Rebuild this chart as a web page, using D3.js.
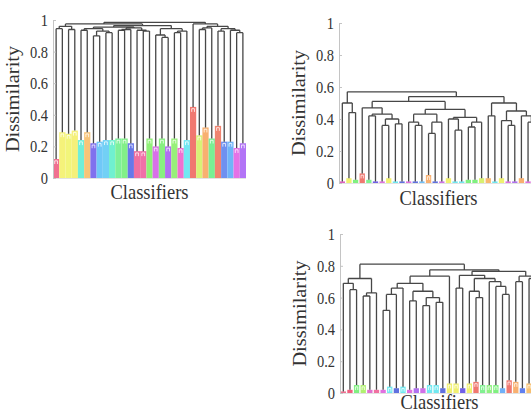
<!DOCTYPE html>
<html>
<head>
<meta charset="utf-8">
<script src="https://cdn.jsdelivr.net/npm/d3@7"></script>
<style>
  body { margin: 0; background: #fff; }
  text { font-family: "Liberation Serif", "Times New Roman", serif; fill: #333; }
</style>
</head>
<body>
<svg id="fig" width="531" height="415"></svg>
<script>
// shared axis values
var yTicks = [0, 0.2, 0.4, 0.6, 0.8, 1];
var yTickLabels = ["0", "0.2", "0.4", "0.6", "0.8", "1"];
var yTitle = "Dissimilarity";
var xTitle = "Classifiers";

// top-left panel: coloured clusters (height, colour) and the black links above them
var tlHeights = [0.12, 0.29, 0.28, 0.30, 0.24, 0.29, 0.22, 0.23, 0.24, 0.24, 0.25,
    0.25, 0.22, 0.17, 0.17, 0.25, 0.20, 0.25, 0.20, 0.25, 0.19, 0.24,
    0.45, 0.27, 0.32, 0.25, 0.33, 0.23, 0.23, 0.19, 0.22];
var tlColors = ["#f07090", "#f5f27a", "#f2f57a", "#f5f07a", "#72eed8", "#f8c478",
    "#8070ee", "#70c8f8", "#72d0f5", "#70f0d0", "#7ef09a", "#82f088", "#6878e8",
    "#f070a0", "#f070a8", "#90f078", "#d870e8", "#88f080", "#b070f0", "#98f07a",
    "#f070d0", "#72e8f2", "#f07870", "#d8f276", "#f8b070", "#78f094", "#f08470",
    "#6f90f0", "#70b4f8", "#e472e6", "#b274f6"];
// node = [left, right, height]; a plain number is a cluster index
var tlTree = [
    [[[0, 1, 0.945], [2, 3, 0.94], 0.96],
     [[[[4, 5, 0.935], [[6, 7, 0.90], [8, 9, 0.92], 0.93], 0.945],
       [[[10, 11, 0.935], 12, 0.94], [13, [14, 15, 0.93], 0.935], 0.95], 0.955],
      [[16, [17, 18, 0.89], 0.905], [[19, 20, 0.92], 21, 0.93], 0.945], 0.965], 0.975],
    [22, [[[23, 24, 0.94], 25, 0.95], [[26, 27, 0.93], [28, [29, 30, 0.92], 0.935], 0.945], 0.96], 0.975],
    0.985];

// top-right panel
var trHeights = [0.01, 0.03, 0.02, 0.06, 0.02, 0.01, 0.01, 0.03, 0.01, 0.01, 0.01,
    0.01, 0.01, 0.05, 0.01, 0.01, 0.03, 0.01, 0.01, 0.02, 0.02, 0.03, 0.03, 0.01,
    0.03, 0.01, 0.01, 0.03, 0.01, 0.02];
var trColors = ["#e060c0", "#f0f070", "#80f080", "#f07870", "#80f090", "#7060e8",
    "#e070e0", "#f0f070", "#70e8f0", "#6070e0", "#e070e0", "#6070e0", "#70c0f8",
    "#f8b070", "#6070e0", "#d070e8", "#f0f070", "#70e8f0", "#70e8f0", "#80f080",
    "#80f080", "#d8f070", "#f8b870", "#70e8f0", "#f0f070", "#e070e0", "#b070f0",
    "#f8b070", "#e070e0", "#b070f0"];
var trTree = [
    [0, [1, 2, 0.44], 0.50],
    [[[3, [[4, 5, 0.42], [[6, 7, 0.36], [8, 9, 0.37], 0.40], 0.43], 0.47],
      [[[10, [11, 12, 0.36], 0.38], [[13, 14, 0.31], 15, 0.38], 0.43],
       [[16, [17, 18, 0.33], 0.40], [[19, 20, 0.35], 21, 0.38], 0.41], 0.46], 0.51],
     [[22, 23, 0.42], [[24, [25, 26, 0.36], 0.39], [27, [28, 29, 0.38], 0.42], 0.45], 0.50], 0.54],
    0.57];

// bottom-right panel
var brHeights = [0.01, 0.02, 0.05, 0.05, 0.02, 0.02, 0.02, 0.04, 0.03, 0.04, 0.02,
    0.03, 0.03, 0.05, 0.05, 0.03, 0.06, 0.06, 0.03, 0.06, 0.07, 0.05, 0.05, 0.05,
    0.03, 0.08, 0.07, 0.03, 0.06, 0.04];
var brColors = ["#f07090", "#f06080", "#80f080", "#b0f070", "#e070d0", "#f070a0",
    "#e070e0", "#70e8f0", "#6070e0", "#70e8f0", "#e070e0", "#b070f0", "#d070e8",
    "#70e8f0", "#70e8f0", "#6070e0", "#f0f070", "#f0f070", "#7060e8", "#f0f070",
    "#f07870", "#80f090", "#90f080", "#80f080", "#70b0f8", "#f07870", "#f8b070",
    "#6080f0", "#f8c070", "#f0f070"];
var brTree = [
    [[0, [1, 2, 0.65], 0.69], [[3, 4, 0.61], 5, 0.63], 0.72],
    [[[[[[6, 7, 0.52], 8, 0.62], 9, 0.66],
        [[10, 11, 0.58], [[12, 13, 0.55], [14, 15, 0.57], 0.60], 0.64], 0.69], 16, 0.735],
      [[[17, 18, 0.66], [[19, [20, 21, 0.60], 0.64], [22, [23, [24, 25, 0.62], 0.67], 0.70], 0.72], 0.74],
       [[26, 27, 0.70], [28, 29, 0.72], 0.735], 0.765], 0.775],
    0.81];

var svg = d3.select("#fig");

drawDendro({ left: 53, width: 193, bottom: 178, top: 20, heights: tlHeights, colors: tlColors, tree: tlTree, tall: true, titleGap: 21 });
drawDendro({ left: 339, width: 199, bottom: 183, top: 23, heights: trHeights, colors: trColors, tree: trTree, tall: false, titleGap: 22 });
drawDendro({ left: 340, width: 199, bottom: 393, top: 234, heights: brHeights, colors: brColors, tree: brTree, tall: false, titleGap: 16 });

function drawDendro(cfg) {
    var n = cfg.heights.length;
    var x = d3.scaleBand().domain(d3.range(n)).range([cfg.left, cfg.left + cfg.width]);
    var y = d3.scaleLinear().domain([0, 1]).range([cfg.bottom, cfg.top]);
    var bw = x.bandwidth();
    var g = svg.append("g");

    // light baseline
    g.append("line")
        .attr("x1", cfg.left).attr("x2", cfg.left + cfg.width)
        .attr("y1", y(0) + 0.5).attr("y2", y(0) + 0.5)
        .attr("stroke", "#e2e2e2");

    // coloured clusters
    var gw = cfg.tall ? bw : bw * 0.8;
    g.selectAll("rect.grp")
        .data(cfg.heights)
        .enter().append("rect")
        .attr("class", "grp")
        .attr("x", function (d, i) { return x(i) + (bw - gw) / 2; })
        .attr("width", gw)
        .attr("y", function (d) { return y(d); })
        .attr("height", function (d) { return y(0) - y(d); })
        .attr("fill", function (d, i) { return cfg.colors[i]; });

    // little inner cap of each cluster
    g.selectAll("path.cap")
        .data(cfg.heights)
        .enter().append("path")
        .attr("class", "cap")
        .attr("d", function (d, i) {
            if (y(0) - y(d) < 5) return null;
            var cx = x(i) + bw / 2, t = y(d);
            return "M" + (cx - gw * 0.22) + "," + (t + 5) + "V" + (t + 1.8) + "H" + (cx + gw * 0.22) + "V" + (t + 5);
        })
        .attr("fill", "none")
        .attr("stroke", "rgba(255,255,255,0.75)")
        .attr("stroke-width", 1);

    // black links
    var segs = [];
    function walk(node) {
        if (typeof node === "number") return { x: x(node) + bw / 2, h: cfg.heights[node] };
        var a = walk(node[0]), b = walk(node[1]), h = node[2];
        segs.push([a.x, a.h, a.x, h], [b.x, b.h, b.x, h], [a.x, h, b.x, h]);
        return { x: (a.x + b.x) / 2, h: h };
    }
    walk(cfg.tree);
    g.append("path")
        .attr("d", segs.map(function (s) {
            return "M" + s[0] + "," + y(s[1]) + "L" + s[2] + "," + y(s[3]);
        }).join(""))
        .attr("fill", "none")
        .attr("stroke", "#474747")
        .attr("stroke-width", 1.3);

    // y axis
    var axis = d3.axisLeft(y)
        .tickValues(yTicks)
        .tickSizeInner(-3)
        .tickSizeOuter(0)
        .tickPadding(5)
        .tickFormat(function (d, i) { return yTickLabels[i]; });
    var ga = g.append("g")
        .attr("transform", "translate(" + cfg.left + ",0)")
        .call(axis);
    ga.select(".domain").attr("stroke", "#c4c4c4");
    ga.selectAll(".tick line").attr("stroke", "#c4c4c4");
    ga.selectAll(".tick text")
        .attr("font-family", "Liberation Serif")
        .attr("font-size", "14.5px")
        .attr("fill", "#333")
        .attr("dy", "0.34em")
        .attr("transform", "scale(1,1.12)");

    g.append("text")
        .attr("transform", "translate(" + (cfg.left - 34) + "," + ((y(0) + y(1)) / 2) + ") scale(1,1.1) rotate(-90)")
        .attr("text-anchor", "middle")
        .attr("font-size", "18.5px")
        .text(yTitle);

    g.append("text")
        .attr("transform", "translate(" + (cfg.left + cfg.width / 2) + "," + (y(0) + cfg.titleGap) + ") scale(1,1.1)")
        .attr("text-anchor", "middle")
        .attr("font-size", "18.5px")
        .text(xTitle);
}
</script>
</body>
</html>
